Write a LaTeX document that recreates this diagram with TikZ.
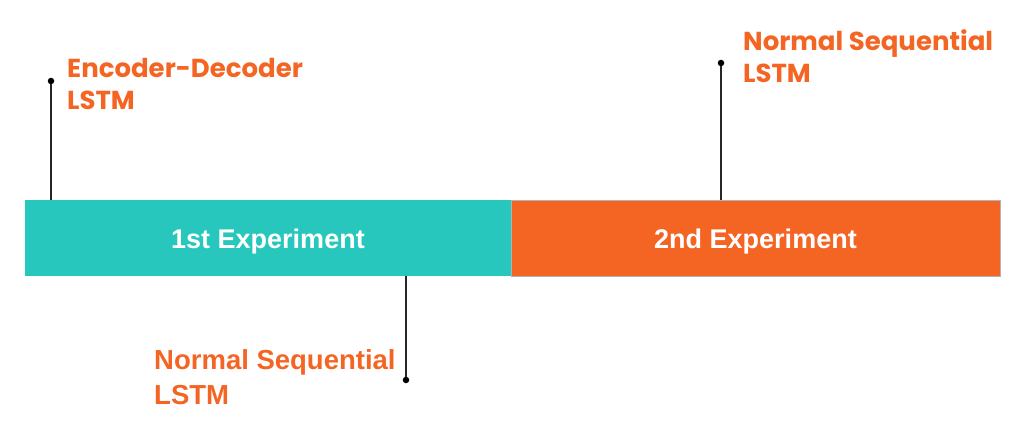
\documentclass[tikz,border=0pt]{standalone}
\usepackage{fontspec}
\setmainfont{Liberation Sans}
\newfontfamily\titlefont{Poppins}
\definecolor{expteal}{HTML}{27C7BD}
\definecolor{exporange}{HTML}{F46524}
\tikzset{
    expbox/.style={rectangle, inner sep=0pt, minimum height=76pt, text=white,
        font=\bfseries\fontsize{27}{31}\selectfont, text height=20pt, text depth=0pt},
    tagline/.style={line width=1.4pt, black!85},
    tagdot/.style={circle, fill=black, inner sep=0pt, minimum size=6.5pt},
    toptag/.style={anchor=base west, align=left, inner sep=0pt, text=exporange,
        font=\titlefont\bfseries\fontsize{26}{32}\selectfont},
    lowtag/.style={anchor=base west, align=left, inner sep=0pt, text=exporange,
        font=\bfseries\fontsize{27.5}{35}\selectfont}
}
\begin{document}
\begin{tikzpicture}[x=1pt, y=-1pt]
    \useasboundingbox (0,0) rectangle (1028,436);
    % the two experiments
    \node[expbox, fill=expteal, minimum width=486pt] (exp1) at (268,238) {1st Experiment};
    \node[expbox, fill=exporange, draw=black!30, line width=0.8pt, minimum width=489pt] (exp2) at (755.5,238) {2nd Experiment};
    % markers
    \node[tagdot] (d1) at (51,81) {};
    \node[tagdot] (d2) at (721,63) {};
    \node[tagdot] (d3) at (406,380) {};
    \draw[tagline] (d1) -- (d1 |- exp1.north);
    \draw[tagline] (d2) -- (d2 |- exp2.north);
    \draw[tagline] (d3) -- (d3 |- exp1.south);
    % labels (placed at the baseline of the last line)
    \node[toptag] (t1) at (67,109) {Encoder-Decoder\\LSTM};
    \node[toptag] (t2) at (743,82) {Normal Sequential\\LSTM};
    \node[lowtag] (t3) at (154,404) {Normal Sequential\\LSTM};
\end{tikzpicture}
\end{document}
